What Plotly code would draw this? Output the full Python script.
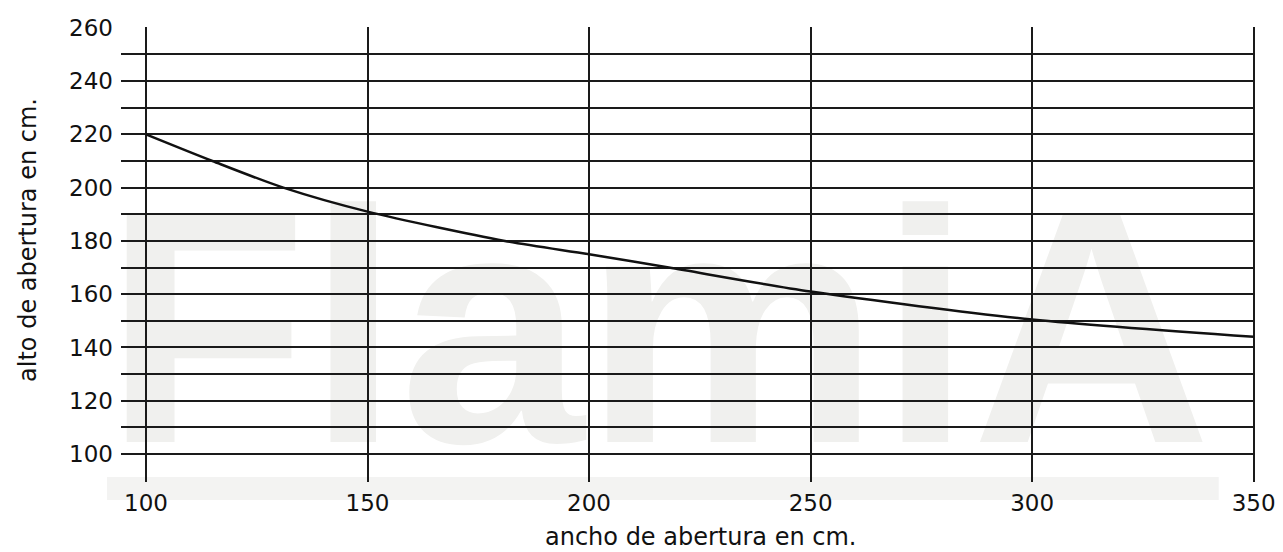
import plotly.graph_objects as go

# curve
ancho = [100, 115, 131, 150, 181, 200, 218, 250, 300, 350]
alto = [220, 210, 200, 191, 180, 175, 170, 161, 150.5, 144]

x_ticks = [100, 150, 200, 250, 300, 350]
y_grid = list(range(100, 261, 10))
y_labels = [str(v) if v % 20 == 0 else "" for v in y_grid]

fig = go.Figure()
fig.add_trace(go.Scatter(x=ancho, y=alto, mode="lines",
                         line=dict(color="#111111", width=2.5, shape="spline", smoothing=0.8),
                         hoverinfo="skip", showlegend=False))

# watermark behind the grid
fig.add_shape(type="rect", xref="paper", yref="paper", x0=-0.04, x1=0.987, y0=0.08, y1=0.74,
              line=dict(width=0), fillcolor="rgba(0,0,0,0)", layer="below",
              label=dict(text="FlamiA", textposition="middle center",
                         font=dict(family="Liberation Sans", size=332, color="#f0f0ee", weight="bold")))
fig.add_shape(type="rect", xref="paper", yref="paper", x0=-0.0123, x1=0.968, y0=-0.0396, y1=0.011,
              line=dict(width=0), fillcolor="#f3f3f2", layer="below")

fig.update_xaxes(range=[94.36, 350.3], tickvals=x_ticks, showgrid=True, gridcolor="#1a1a1a",
                 gridwidth=2, zeroline=False, showline=False, ticks="", ticklabelstandoff=5,
                 automargin=False)
fig.update_yaxes(range=[89.5, 260.3], tickvals=y_grid, ticktext=y_labels, showgrid=True,
                 gridcolor="#1a1a1a", gridwidth=2, zeroline=False, showline=False, ticks="",
                 ticklabelstandoff=7, automargin=False)

fig.add_annotation(text="ancho de abertura en cm.", xref="paper", yref="paper",
                   x=0.5106, y=-0.121, xanchor="center", yanchor="middle",
                   showarrow=False, font=dict(size=24))
fig.add_annotation(text="alto de abertura en cm.", xref="paper", yref="paper",
                   x=-0.082, y=0.532, xanchor="center", yanchor="middle", textangle=-90,
                   showarrow=False, font=dict(size=24))

# page body keeps an 8px margin, so the figure is 8px smaller than the window
fig.update_layout(width=1275, height=544,
                  margin=dict(l=113, r=28, t=19, b=70, autoexpand=False),
                  paper_bgcolor="white", plot_bgcolor="white",
                  font=dict(family="DejaVu Sans", size=23, color="#111111"))

fig.write_html("out.html")
